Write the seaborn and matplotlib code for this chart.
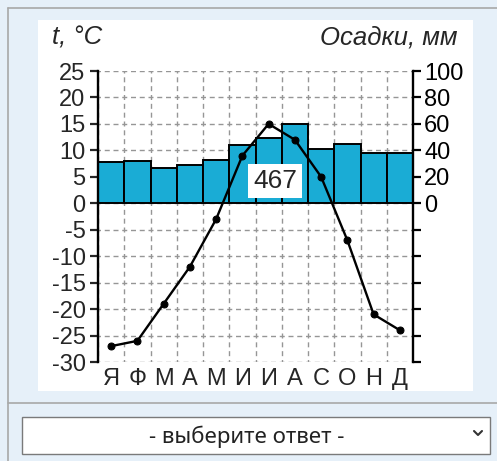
import numpy as np
import pandas as pd
import seaborn as sns
import matplotlib.pyplot as plt
from matplotlib.patches import Rectangle
from matplotlib.lines import Line2D

# ---- data ----
months = ["Я", "Ф", "М", "А", "М", "И", "И", "А", "С", "О", "Н", "Д"]
temp_c = [-27, -26, -19, -12, -3, 9, 15, 12, 5, -7, -21, -24]
precip_mm = [31, 32, 27, 29, 33, 44, 49, 60, 41, 45, 38, 38]
total_precip = 467

temp_ticks = list(range(-30, 30, 5))
precip_ticks = list(range(-120, 120, 20))

df = pd.DataFrame({"pos": range(len(months)), "temp": temp_c, "precip": precip_mm})

sns.set_style("white")
plt.rcParams["font.family"] = ["Liberation Sans", "DejaVu Sans"]
plt.rcParams["axes.unicode_minus"] = False

W, H = 497, 461
fig = plt.figure(figsize=(W / 100, H / 100), dpi=100, facecolor="#e6f0f9")


def fx(px):
    return px / W


def fy(py):
    return 1 - py / H


# page decoration (panel, white picture, dropdown)
fig.add_artist(Rectangle((fx(38), fy(391)), fx(435), 371 / H, transform=fig.transFigure,
                         fc="white", ec="none", zorder=0))
for xs, ys in [((8, 497), (8, 8)), ((8, 8), (8, 461)), ((8, 497), (403, 403))]:
    fig.add_artist(Line2D([fx(x) for x in xs], [fy(y) for y in ys], color="#a8a8a8", lw=1.2))
fig.add_artist(Rectangle((fx(22), fy(454)), fx(468), 37 / H, transform=fig.transFigure,
                         fc="white", ec="#7a7a7a", lw=1))
fig.text(fx(247), fy(437), "- выберите ответ -", ha="center", va="center",
         fontsize=16, color="#222222", family=["Noto Sans", "DejaVu Sans"])
fig.add_artist(Line2D([fx(474), fx(478), fx(482)], [fy(431), fy(435), fy(431)],
                      color="#333333", lw=1.5))

# ---- chart ----
ax_p = fig.add_axes([fx(98), fy(362), fx(315), 291 / H])
ax_p.patch.set_visible(False)
ax_t = ax_p.twinx()

# grid (drawn under the bars)
ax_p.set_axisbelow(True)
ax_p.set_xticks(np.arange(-0.5, 12, 1), minor=True)
ax_p.grid(True, which="minor", axis="x", color="#969696", lw=1, linestyle=(1.8, (3.6, 2.76)))
ax_p.grid(True, which="major", axis="y", color="#969696", lw=1, linestyle=(1.8, (3.6, 2.7)))
ax_p.grid(False, which="major", axis="x")

sns.barplot(data=df, x="pos", y="precip", ax=ax_p, width=1, color="#1aacd5",
            saturation=1, edgecolor="black", linewidth=1.4, zorder=2)

sns.lineplot(data=df, x="pos", y="temp", ax=ax_t, color="black", lw=1.7,
             marker="o", markersize=5, markeredgecolor="black", zorder=3)

ax_p.set_ylim(-120, 100)
ax_t.set_ylim(-30, 25)
ax_p.set_xlim(-0.5, 11.5)

ax_p.set_xticks(range(len(months)))
ax_p.set_xticklabels(months)
ax_p.tick_params(axis="x", which="both", length=0, labelsize=17, pad=4)

ax_p.yaxis.tick_right()
ax_p.set_yticks(precip_ticks)
ax_p.set_yticklabels([str(v) if v >= 0 else "" for v in precip_ticks])
ax_p.tick_params(axis="y", length=6, width=1.6, direction="out", labelsize=17, pad=2,
                 colors="black")

ax_t.yaxis.tick_left()
ax_t.set_yticks(temp_ticks)
ax_t.tick_params(axis="y", length=6, width=1.6, direction="out", labelsize=17, pad=3)

for a in (ax_p, ax_t):
    a.set_xlabel("")
    a.set_ylabel("")
    for s in ("top", "bottom", "left", "right"):
        a.spines[s].set_visible(False)
for s in ("left", "right"):
    ax_t.spines[s].set_visible(True)
    ax_t.spines[s].set_linewidth(1.7)
    ax_t.spines[s].set_color("black")

ax_t.text(6.24, 4.2, str(total_precip), ha="center", va="center", fontsize=19, zorder=5,
          bbox=dict(boxstyle="square,pad=0.18", fc="white", ec="none"))

fig.text(fx(52), fy(44), "t, °C", ha="left", va="baseline", fontsize=18.5, style="italic")
fig.text(fx(458), fy(44), "Осадки, мм", ha="right", va="baseline", fontsize=18.5, style="italic")

fig.savefig("out.png", dpi=100)
